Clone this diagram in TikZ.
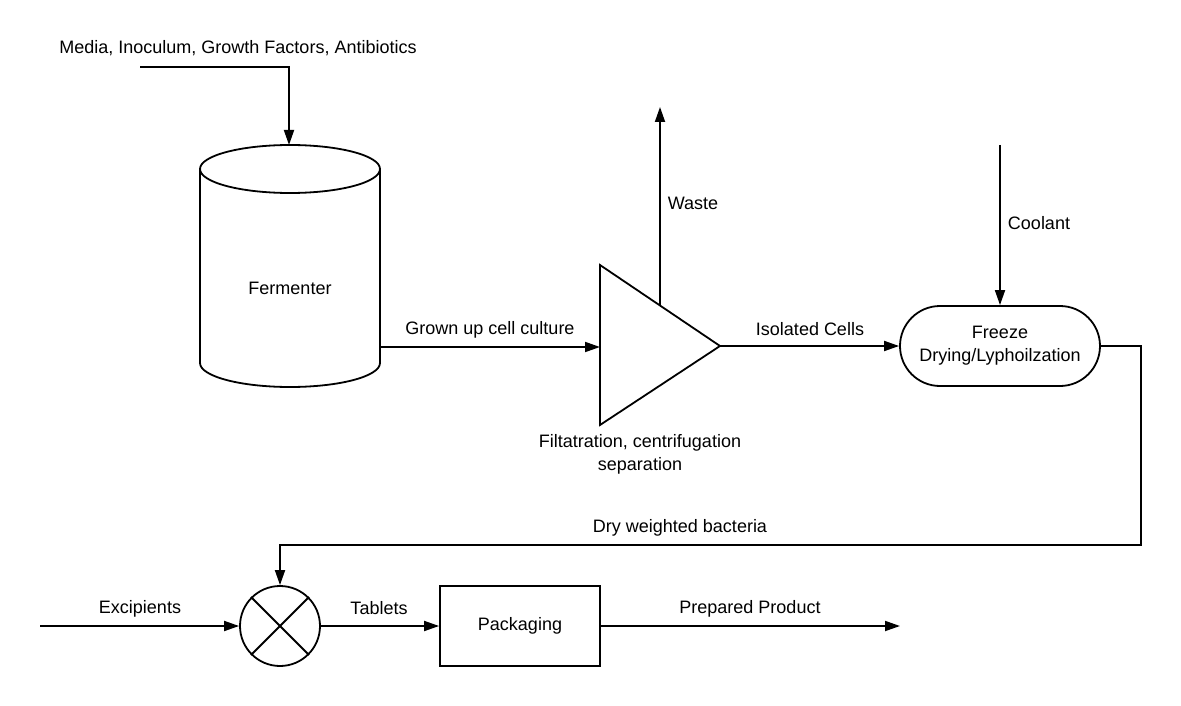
\documentclass[tikz,border=0pt]{standalone}
\usepackage{fontspec}
\setmainfont{Liberation Sans}
\usetikzlibrary{arrows.meta}
\begin{document}
\begin{tikzpicture}[x=1pt,y=-1pt, line width=1.8pt,
  >={Triangle[length=15pt,width=10pt]},
  lbl/.style={font=\fontsize{18}{23}\selectfont, inner sep=0pt, align=center}]
\useasboundingbox (0,0) rectangle (1181,706);
% fermenter
\draw (290,169) ellipse [x radius=90pt, y radius=24pt];
\draw (200,169) -- (200,363) arc[start angle=180, end angle=360, x radius=90pt, y radius=24pt] -- (380,169);
\node[lbl] (ferm) at (290,288) {Fermenter};
\coordinate (fermtop) at (289,145);
\coordinate (fermout) at (380,347);
% top input
\node[lbl] (tmedia) at (238,48.5) {Media, Inoculum, Growth Factors, Antibiotics};
\coordinate (mstart) at (140,67);
\draw[->] (mstart) -- (289,67) -- (fermtop);
% separator triangle
\coordinate (tl) at (600,265);
\coordinate (tb) at (600,425);
\coordinate (ta) at (720,346);
\coordinate (tin) at (600,347);
\coordinate (tw) at (660,305.5);
\coordinate (wend) at (660,107);
\draw[line join=miter] (tl) -- (ta) -- (tb) -- cycle;
\node[lbl] (tsep) at (640,454) {Filtatration, centrifugation\\separation};
\draw[->] (fermout) -- (tin);
\node[lbl] (tgrown) at (490,329.5) {Grown up cell culture};
\draw[->] (tw) -- (wend);
\node[lbl] (twaste) at (693,203.5) {Waste};
% freeze drying
\node[draw, rounded corners=40pt, minimum width=200pt, minimum height=80pt, align=center, inner sep=0pt, font=\fontsize{18}{23}\selectfont] (fd) at (1000,346) {Freeze\\Drying/Lyphoilzation};
\draw[->] (ta) -- (fd.west);
\node[lbl] (tiso) at (810,329.5) {Isolated Cells};
\coordinate (cstart) at (1000,145);
\draw[->] (cstart) -- (fd.north);
\node[lbl] (tcool) at (1039,223.5) {Coolant};
% mixer
\node[draw, circle, minimum size=80pt, inner sep=0pt] (mix) at (280,626) {};
\draw (mix.45) -- (mix.225);
\draw (mix.135) -- (mix.-45);
\draw[->] (fd.east) -- (1141,346) -- (1141,545) -- (280,545) -- (mix.north);
\node[lbl] (tdry) at (680,527.5) {Dry weighted bacteria};
\coordinate (estart) at (40,626);
\draw[->] (estart) -- (mix.west);
\node[lbl] (texc) at (140,608.5) {Excipients};
% packaging
\node[draw, minimum width=160pt, minimum height=80pt, inner sep=0pt, font=\fontsize{18}{23}\selectfont] (pack) at (520,626) {Packaging};
\draw[->] (mix.east) -- (pack.west);
\node[lbl] (ttab) at (379,608.5) {Tablets};
\coordinate (pend) at (900,626);
\draw[->] (pack.east) -- (pend);
\node[lbl] (tprep) at (750,608.5) {Prepared Product};
\end{tikzpicture}
\end{document}
